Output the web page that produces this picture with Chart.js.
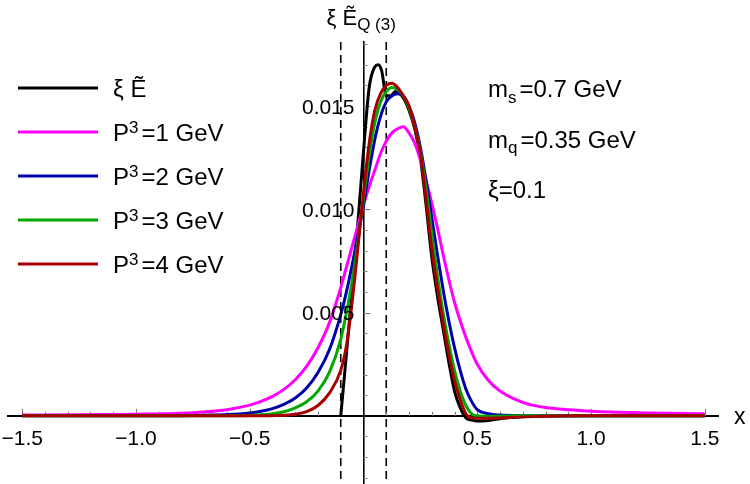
<!DOCTYPE html>
<html>
<head>
<meta charset="utf-8">
<script src="https://cdn.jsdelivr.net/npm/chart.js@4.4.1/dist/chart.umd.min.js"></script>
<style>
  html, body { margin: 0; padding: 0; background: #fff; }
  #wrap { width: 750px; height: 484px; }
</style>
</head>
<body>
<div id="wrap"><canvas id="plot" width="750" height="484"></canvas></div>
<script>
// sample points in x (shared by the four P^3 curves)
const xGrid = [-1.5, -1.25, -1.0, -0.8, -0.7, -0.6, -0.5, -0.45, -0.4, -0.35, -0.3, -0.25, -0.2, -0.15,
  -0.1, -0.075, -0.05, -0.025, 0, 0.025, 0.05, 0.075, 0.1, 0.125, 0.15, 0.175, 0.2, 0.225, 0.25, 0.275,
  0.3, 0.325, 0.35, 0.375, 0.4, 0.425, 0.45, 0.475, 0.5, 0.55, 0.6, 0.7, 0.8, 0.9, 1.0, 1.25, 1.5];

// P^3 = 1 GeV
const yP1 = [0.00004, 0.00005, 0.00008, 0.00013, 0.00019, 0.0003, 0.00052, 0.0007, 0.00094, 0.00128, 0.00175, 0.0024, 0.0033, 0.0045,
  0.0062, 0.0072, 0.0082, 0.0092, 0.0102, 0.0111, 0.0119, 0.0127, 0.0133, 0.0137, 0.0139, 0.0140, 0.0137, 0.0132, 0.0124, 0.0114,
  0.0103, 0.0091, 0.0078, 0.0066, 0.0055, 0.0046, 0.0038, 0.0031, 0.0025, 0.0017, 0.0012, 0.00065, 0.0004, 0.0003, 0.00022, 0.00014, 0.0001];
// P^3 = 2 GeV
const yP2 = [0, 0, 0, 0.00001, 0.00003, 0.00006, 0.00014, 0.00022, 0.00035, 0.00055, 0.00086, 0.00135, 0.0021, 0.0032,
  0.0049, 0.0060, 0.0073, 0.0087, 0.0102, 0.0119, 0.0134, 0.0145, 0.0152, 0.0155, 0.0156, 0.0155, 0.0150, 0.0142, 0.0130, 0.0114,
  0.0096, 0.0078, 0.0061, 0.0046, 0.0033, 0.0022, 0.0013, 0.0007, 0.0003, 0.0001, 0.00004, 0.00001, 0, 0, 0, 0, 0];
// P^3 = 3 GeV
const yP3 = [0, 0, 0, 0, 0, 0, 0.00002, 0.00005, 0.0001, 0.0002, 0.00038, 0.00068, 0.0012, 0.0021,
  0.0037, 0.0050, 0.0065, 0.0084, 0.0105, 0.0126, 0.0142, 0.0152, 0.0157, 0.0159, 0.0158, 0.0155, 0.0149, 0.0140, 0.0128, 0.0110,
  0.0088, 0.0068, 0.0050, 0.0035, 0.0022, 0.0012, 0.0005, 0.0001, 0, -0.00003, -0.00002, 0, 0, 0, 0, 0, 0];
// P^3 = 4 GeV
const yP4 = [0, 0, 0, 0, 0, 0, 0, 0, 0.00001, 0.00003, 0.00008, 0.0002, 0.0005, 0.0011,
  0.0022, 0.0034, 0.0055, 0.0081, 0.0108, 0.0132, 0.0148, 0.0156, 0.0160, 0.0161, 0.0159, 0.0155, 0.0150, 0.0140, 0.0127, 0.0105,
  0.0081, 0.0062, 0.0045, 0.0030, 0.0017, 0.0008, 0.0001, -0.0001, -0.00012, -0.00012, -0.0001, -0.00005, -0.00002, 0, 0, 0, 0];

// xi E-tilde, starts at x = -xi
const xBlack = [-0.1, -0.075, -0.05, -0.025, 0, 0.025, 0.05, 0.065, 0.08, 0.1, 0.12, 0.14, 0.16, 0.18, 0.2, 0.225, 0.25, 0.275,
  0.3, 0.325, 0.35, 0.375, 0.4, 0.425, 0.45, 0.475, 0.5, 0.55, 0.6, 0.7, 0.8, 1.0, 1.5];
const yBlack = [0, 0.0030, 0.0061, 0.0093, 0.0128, 0.0159, 0.0169, 0.0170, 0.0167, 0.0155, 0.0155, 0.0157, 0.0156, 0.0153, 0.0148, 0.0139, 0.0125, 0.0102,
  0.0077, 0.0058, 0.0042, 0.0026, 0.0012, 0.0004, -0.0001, -0.0002, -0.00025, -0.00022, -0.00014, -0.00005, -0.00001, 0, 0];

const seriesNames = ['ξ \u1EBC', 'P^3=1 GeV', 'P^3=2 GeV', 'P^3=3 GeV', 'P^3=4 GeV'];
const seriesColors = ['#000000', '#ff00ff', '#0000a8', '#00a800', '#a80000'];

const xiLines = [-0.1, 0.1];
const xMajor = [-1.5, -1.0, -0.5, 0.5, 1.0, 1.5];
const yMajor = [0.005, 0.010, 0.015];
const xTicks = [];
for (let i = -15; i <= 15; i++) xTicks.push(i / 10);
const yTicks = [];
for (let i = -3; i <= 18; i++) yTicks.push(i / 1000);

const notes = ['m_s=0.7 GeV', 'm_q=0.35 GeV', 'ξ=0.1'];
const plotTitle = 'ξ \u1EBC_{Q (3)}';

const FONT = '"Liberation Sans", Arial, Helvetica, sans-serif';
Chart.defaults.font.family = FONT;
Chart.defaults.color = '#000';

const isIn = (list, v) => list.some(m => Math.abs(m - v) < 1e-9);

// text with ^x superscripts and _x / _{..} subscripts
function richParts(str) {
  const parts = [];
  let i = 0, buf = '';
  while (i < str.length) {
    const c = str[i];
    if (c === '^' || c === '_') {
      if (buf) { parts.push({t: buf, k: 0}); buf = ''; }
      let t;
      if (str[i + 1] === '{') {
        const j = str.indexOf('}', i);
        t = str.slice(i + 2, j);
        i = j + 1;
      } else {
        t = str[i + 1];
        i += 2;
      }
      parts.push({t: t, k: c === '^' ? 1 : -1});
    } else {
      buf += c;
      i++;
    }
  }
  if (buf) parts.push({t: buf, k: 0});
  return parts;
}

function drawRich(ctx, str, x, y, size, subScale) {
  richParts(str).forEach(p => {
    const s = p.k ? Math.round(size * (subScale || 0.7)) : size;
    ctx.font = s + 'px ' + FONT;
    const dy = p.k === 1 ? -size * 0.34 : (p.k === -1 ? size * 0.24 : 0);
    ctx.fillText(p.t, x, y + dy);
    x += ctx.measureText(p.t).width + (p.k ? 3 : 0);
  });
}

const axisMarks = {
  id: 'axisMarks',
  beforeDatasetsDraw(chart) {
    const {ctx, chartArea: a, scales: {x, y}} = chart;
    const x0 = x.getPixelForValue(0);
    const y0 = y.getPixelForValue(0);
    ctx.save();
    ctx.strokeStyle = '#000';
    ctx.lineWidth = 1.6;
    ctx.setLineDash([8, 5]);
    xiLines.forEach(v => {
      const px = x.getPixelForValue(v);
      ctx.beginPath();
      ctx.moveTo(px, a.top);
      ctx.lineTo(px, a.bottom);
      ctx.stroke();
    });
    ctx.setLineDash([]);
    ctx.strokeStyle = '#808080';
    ctx.lineWidth = 1;
    xTicks.forEach(v => {
      if (v === 0) return;
      const px = Math.round(x.getPixelForValue(v)) + 0.5;
      const len = isIn(xMajor, v) ? 7 : 4;
      ctx.beginPath();
      ctx.moveTo(px, y0);
      ctx.lineTo(px, y0 - len);
      ctx.stroke();
    });
    yTicks.forEach(v => {
      if (v === 0) return;
      const py = Math.round(y.getPixelForValue(v)) + 0.5;
      const len = isIn(yMajor, v) ? 7 : 4;
      ctx.beginPath();
      ctx.moveTo(x0, py);
      ctx.lineTo(x0 + len, py);
      ctx.stroke();
    });
    ctx.restore();
  }
};

const plotText = {
  id: 'plotText',
  afterDraw(chart) {
    const {ctx, chartArea: a, scales: {x, y}} = chart;
    const x0 = x.getPixelForValue(0);
    const y0 = y.getPixelForValue(0);
    ctx.save();
    ctx.fillStyle = '#000';
    ctx.textBaseline = 'alphabetic';

    // tick labels
    ctx.font = '21px ' + FONT;
    ctx.textAlign = 'center';
    xMajor.forEach(v => {
      const t = (v < 0 ? '\u2212' : '') + Math.abs(v).toFixed(1);
      ctx.fillText(t, x.getPixelForValue(v), y0 + 29);
    });
    ctx.textAlign = 'right';
    yMajor.forEach(v => {
      ctx.fillText(v.toFixed(3), x0 - 9, y.getPixelForValue(v) + 7.5);
    });
    ctx.textAlign = 'left';

    // legend
    chart.data.datasets.forEach((ds, i) => {
      const ly = a.top + 46 + 44 * i;
      ctx.strokeStyle = ds.borderColor;
      ctx.lineWidth = 3;
      ctx.beginPath();
      ctx.moveTo(18, ly);
      ctx.lineTo(98, ly);
      ctx.stroke();
      drawRich(ctx, ds.label, 113, ly + 9, 24);
    });

    // parameter notes
    notes.forEach((t, i) => drawRich(ctx, t, 488, 97 + 50.5 * i, 24));

    // title above the vertical axis
    drawRich(ctx, plotTitle, x0 - 37, 25, 22, 0.78);

    // x axis name
    ctx.font = '23px ' + FONT;
    ctx.fillText('x', a.right + 16, y0 + 8);
    ctx.restore();
  }
};

const ySeries = [yBlack, yP1, yP2, yP3, yP4];

new Chart(document.getElementById('plot'), {
  type: 'line',
  data: {
    datasets: ySeries.map((ys, i) => ({
      label: seriesNames[i],
      data: ys.map((v, j) => ({x: (i === 0 ? xBlack : xGrid)[j], y: v})),
      borderColor: seriesColors[i],
      borderWidth: 3,
      pointRadius: 0,
      fill: false,
      cubicInterpolationMode: 'monotone',
      order: i === 0 ? 4 : 4 - i
    }))
  },
  options: {
    responsive: false,
    animation: false,
    devicePixelRatio: 1,
    layout: { padding: { left: 8, right: 32, top: 42, bottom: 0 } },
    plugins: {
      legend: { display: false },
      tooltip: { enabled: false },
      title: { display: false }
    },
    scales: {
      x: {
        type: 'linear',
        min: -1.5626,
        max: 1.5582,
        position: { y: 0 },
        afterBuildTicks: s => { s.ticks = xTicks.map(v => ({value: v})); },
        grid: { display: false, drawTicks: false },
        border: { display: true, color: '#000', width: 2 },
        ticks: { display: false }
      },
      y: {
        type: 'linear',
        min: -0.0033,
        max: 0.0181,
        position: { x: 0 },
        afterBuildTicks: s => { s.ticks = yTicks.map(v => ({value: v})); },
        grid: { display: false, drawTicks: false },
        border: { display: true, color: '#000', width: 1.6 },
        ticks: { display: false }
      }
    }
  },
  plugins: [axisMarks, plotText]
});
</script>
</body>
</html>
